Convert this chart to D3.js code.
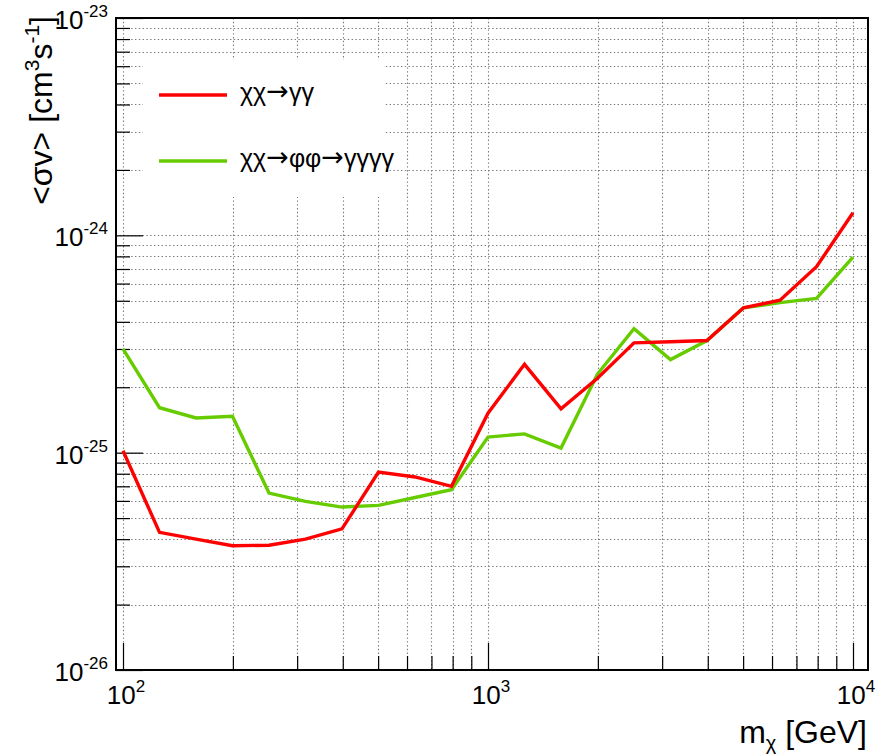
<!DOCTYPE html>
<html>
<head>
<meta charset="utf-8">
<script src="https://cdn.jsdelivr.net/npm/d3@7"></script>
<style>
  html, body { margin: 0; padding: 0; background: #fff; }
  svg { display: block; font-family: "Liberation Sans", Arial, Helvetica, sans-serif; }
</style>
</head>
<body>
<svg id="chart" width="885" height="756"></svg>
<script>
// Dark matter mass points (GeV), 0.1-decade steps from 100 GeV to 10 TeV
const massGeV = [100, 125.9, 158.5, 199.5, 251.2, 316.2, 398.1, 501.2, 631.0, 794.3,
                 1000, 1259, 1585, 1995, 2512, 3162, 3981, 5012, 6310, 7943, 10000];

// Upper limits on <sigma v> (cm^3 s^-1)
const sigmaGammaGamma = [1.02e-25, 4.3e-26, 4.0e-26, 3.73e-26, 3.75e-26, 4.0e-26, 4.46e-26,
                         8.15e-26, 7.73e-26, 7.0e-26, 1.52e-25, 2.55e-25, 1.59e-25, 2.2e-25,
                         3.2e-25, 3.24e-25, 3.28e-25, 4.64e-25, 5.03e-25, 7.17e-25, 1.27e-24];
const sigmaFourGamma = [3.0e-25, 1.61e-25, 1.445e-25, 1.47e-25, 6.52e-26, 5.97e-26, 5.62e-26,
                        5.72e-26, 6.22e-26, 6.75e-26, 1.18e-25, 1.22e-25, 1.05e-25, 2.3e-25,
                        3.72e-25, 2.68e-25, 3.28e-25, 4.64e-25, 4.9e-25, 5.13e-25, 7.94e-25];

// Legend labels split at the arrows so the arrows can be set separately
const seriesNames = [["χχ", "γγ"], ["χχ", "φφ", "γγγγ"]];
const seriesColors = ["#ff0000", "#66cc00"];

const xMajorExp = [2, 3, 4];
const yMajorExp = [-26, -25, -24, -23];

const svg = d3.select("#chart");
const frame = { left: 116, right: 868, top: 18, bottom: 670 };

const x = d3.scaleLog()
  .domain([Math.pow(10, 2 - 7 / 365), Math.pow(10, 4 + 15 / 365)])
  .range([frame.left, frame.right]);
const y = d3.scaleLog()
  .domain([1e-26, 1e-23])
  .range([frame.bottom, frame.top]);

// Minor values 2..9 within each decade
function minorValues(lo, hi) {
  const out = [];
  for (let e = lo; e < hi; e++) for (let k = 2; k <= 9; k++) out.push(k * Math.pow(10, e));
  return out;
}
const xMajor = xMajorExp.map(e => Math.pow(10, e));
const xMinor = minorValues(1, 4).filter(v => v >= x.domain()[0] && v <= x.domain()[1]);
const yMajor = yMajorExp.map(e => Math.pow(10, e));
const yMinor = minorValues(-26, -23);

// Dotted grid
const grid = svg.append("g")
  .attr("stroke", "#7a7a7a").attr("stroke-width", 1.1).attr("stroke-dasharray", "1.4,2.4");
grid.selectAll("line.gx").data(xMajor.concat(xMinor)).join("line")
  .attr("class", "gx")
  .attr("x1", d => Math.round(x(d)) + 0.5).attr("x2", d => Math.round(x(d)) + 0.5)
  .attr("y1", frame.top).attr("y2", frame.bottom);
grid.selectAll("line.gy").data(yMajor.concat(yMinor)).join("line")
  .attr("class", "gy")
  .attr("y1", d => Math.round(y(d)) + 0.5).attr("y2", d => Math.round(y(d)) + 0.5)
  .attr("x1", frame.left).attr("x2", frame.right);

// Inward ticks
const axisStyle = g => g.call(s => s.select(".domain").remove())
  .selectAll("line").attr("stroke", "#000").attr("stroke-width", 1.2);
svg.append("g").attr("transform", `translate(0,${frame.bottom})`)
  .call(d3.axisBottom(x).tickValues(xMajor).tickSize(-27).tickFormat(""))
  .call(axisStyle);
svg.append("g").attr("transform", `translate(0,${frame.bottom})`)
  .call(d3.axisBottom(x).tickValues(xMinor).tickSize(-14).tickFormat(""))
  .call(axisStyle);
svg.append("g").attr("transform", `translate(${frame.left},0)`)
  .call(d3.axisLeft(y).tickValues(yMajor).tickSize(-27).tickFormat(""))
  .call(axisStyle);
svg.append("g").attr("transform", `translate(${frame.left},0)`)
  .call(d3.axisLeft(y).tickValues(yMinor).tickSize(-14).tickFormat(""))
  .call(axisStyle);

// Tick labels as powers of ten
svg.append("g").selectAll("text").data(xMajorExp).join("text")
  .attr("x", d => x(Math.pow(10, d)) + 3)
  .attr("y", 704)
  .attr("text-anchor", "middle")
  .attr("font-size", 26)
  .each(function (d) {
    const t = d3.select(this);
    t.append("tspan").text("10");
    t.append("tspan").attr("font-size", 17).attr("dy", -12).text(d);
  });
svg.append("g").selectAll("text").data(yMajorExp).join("text")
  .attr("x", 108)
  .attr("y", d => y(Math.pow(10, d)) + 11)
  .attr("text-anchor", "end")
  .attr("font-size", 26)
  .each(function (d) {
    const t = d3.select(this);
    t.append("tspan").text("10");
    t.append("tspan").attr("font-size", 17).attr("dy", -12).text(d);
  });

// Limit curves (four-photon channel underneath)
const line = d3.line().x(d => x(d[0])).y(d => y(d[1]));
const series = [sigmaFourGamma, sigmaGammaGamma];
const colors = [seriesColors[1], seriesColors[0]];
series.forEach((vals, i) => {
  svg.append("path")
    .datum(massGeV.map((m, j) => [m, vals[j]]))
    .attr("d", line)
    .attr("fill", "none")
    .attr("stroke", colors[i])
    .attr("stroke-width", 3.4)
    .attr("stroke-linejoin", "miter");
});

// Legend
const legend = svg.append("g");
legend.append("rect").attr("x", 143).attr("y", 60).attr("width", 241).attr("height", 137).attr("fill", "#fff");
seriesNames.forEach((parts, i) => {
  const ly = 95 + i * 66;
  legend.append("line").attr("x1", 159).attr("x2", 227).attr("y1", ly).attr("y2", ly)
    .attr("stroke", seriesColors[i]).attr("stroke-width", 3.4);
  const t = legend.append("text").attr("x", 240).attr("y", ly + 6).attr("font-size", 25);
  parts.forEach((p, k) => {
    if (k > 0) {
      t.append("tspan").attr("font-family", "DejaVu Sans").attr("font-size", 27)
        .attr("dy", -1).attr("dx", 0).text("→");
      t.append("tspan").attr("dy", 1).attr("dx", 0).text(p);
    } else {
      t.append("tspan").text(p);
    }
  });
});

// Frame
svg.append("rect")
  .attr("x", frame.left).attr("y", frame.top)
  .attr("width", frame.right - frame.left).attr("height", frame.bottom - frame.top)
  .attr("fill", "none").attr("stroke", "#000").attr("stroke-width", 2);

// Axis titles
const yTitle = svg.append("text")
  .attr("transform", "translate(52,16) rotate(-90)")
  .attr("text-anchor", "end")
  .attr("font-size", 32);
yTitle.append("tspan").text("<σv> [cm");
yTitle.append("tspan").attr("font-size", 21).attr("dy", -13).text("3");
yTitle.append("tspan").attr("dy", 13).text("s");
yTitle.append("tspan").attr("font-size", 21).attr("dy", -13).text("-1");
yTitle.append("tspan").attr("dy", 13).text("]");

const xTitle = svg.append("text")
  .attr("x", 867).attr("y", 743)
  .attr("text-anchor", "end")
  .attr("font-size", 32);
xTitle.append("tspan").text("m");
xTitle.append("tspan").attr("font-size", 20).attr("dy", 7).text("χ");
xTitle.append("tspan").attr("dy", -7).text(" [GeV]");
</script>
</body>
</html>
